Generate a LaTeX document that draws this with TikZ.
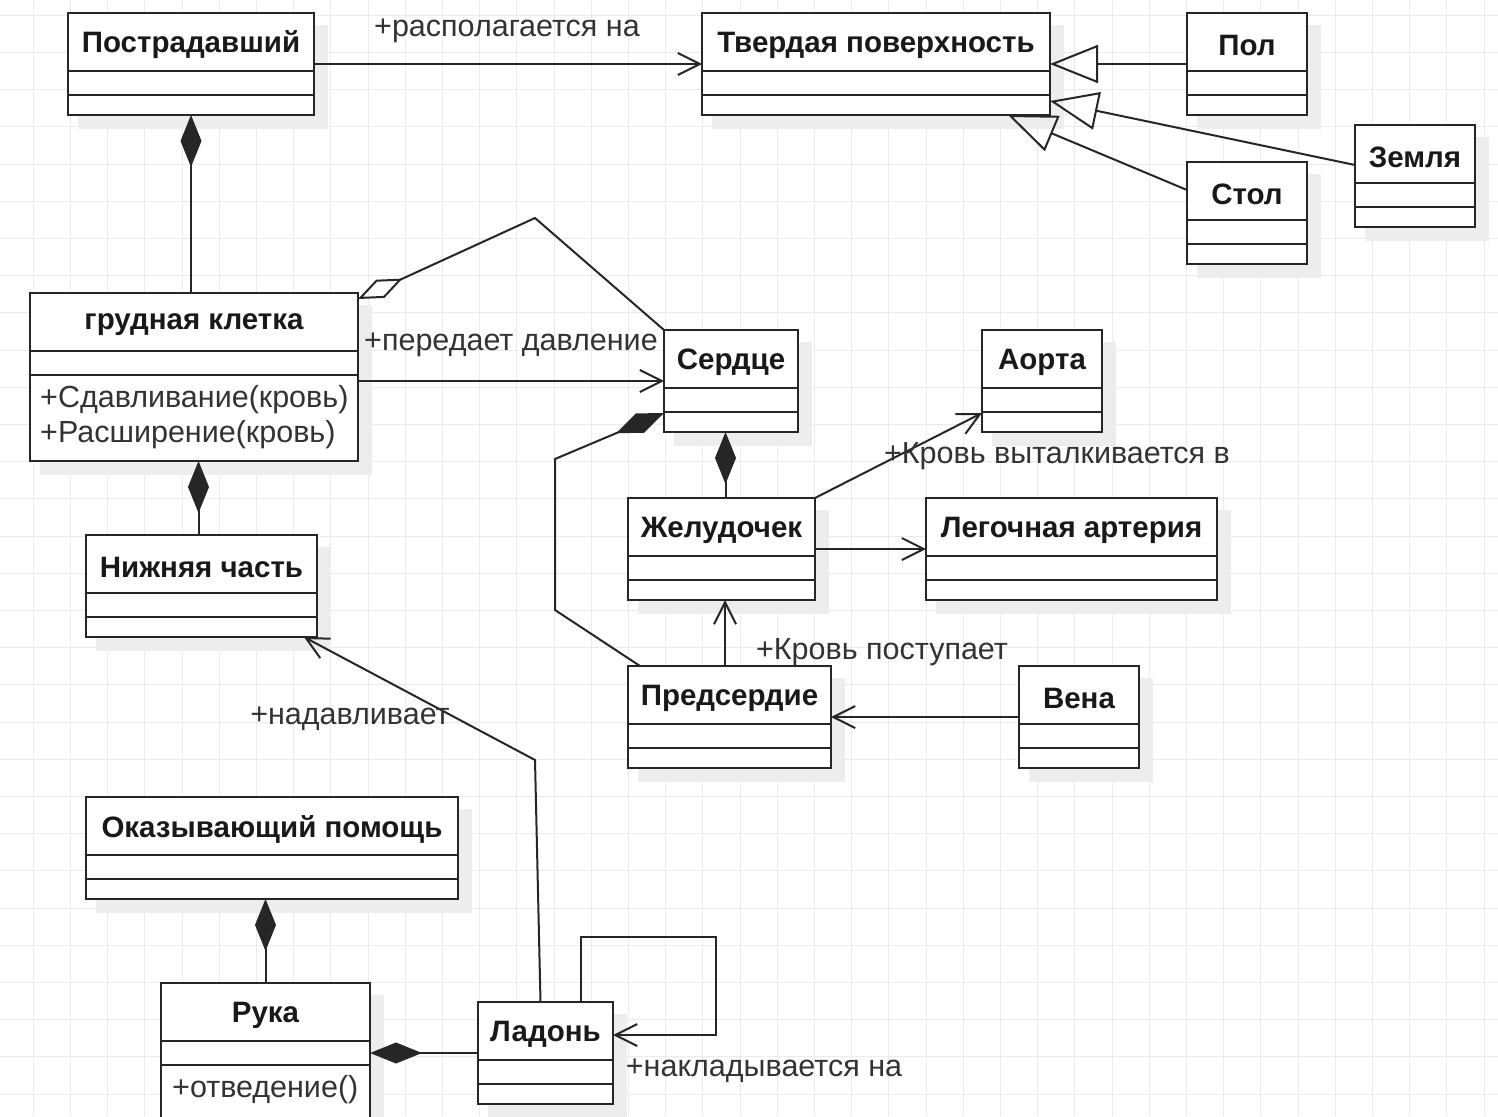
\documentclass[tikz,border=0pt]{standalone}
\usepackage{fontspec}
\setmainfont{Liberation Sans}
\usetikzlibrary{arrows.meta,calc}
\tikzset{
 box/.style={draw=black!85, fill=white, line width=2pt, inner sep=0pt, outer sep=0pt},
 shad/.style={fill=black!7},
 divl/.style={draw=black!85, line width=2pt},
 gridl/.style={draw=black!8, line width=0.8pt},
 ttl/.style={font=\bfseries\fontsize{29.5}{31}\selectfont, text=black!90, inner sep=0pt},
 lbl/.style={font=\fontsize{30.5}{32}\selectfont, text=black!80, inner sep=0pt},
 conn/.style={line width=2pt, draw=black!85},
 assoc/.style={conn, -{Straight Barb[length=22pt,width=22pt]}},
 gen/.style={conn, -{Triangle[open,length=48pt,width=38pt]}},
 comp/.style={conn, {Diamond[length=52pt,width=21pt]}-},
 aggr/.style={conn, {Diamond[open,length=49pt,width=20pt]}-},
}
\newcommand\umlcls[8]{%
  \fill[shad] ({#2+10},{#3+12}) rectangle ({#4+14},{#5+14});
  \node[box, minimum width={(#4)-(#2)}, minimum height={(#5)-(#3)}] (#1) at ({((#2)+(#4))/2},{((#3)+(#5))/2}) {};
  \draw[divl] ({#2},{#6}) -- ({#4},{#6});
  \draw[divl] ({#2},{#7}) -- ({#4},{#7});
  \node[ttl] (#1-t) at ({((#2)+(#4))/2},{((#3)+(#6))/2+3}) {#8};
}
\begin{document}
\begin{tikzpicture}[x=1pt,y=-1pt]
\useasboundingbox (0,0) rectangle (1498,1116);
\clip (0,0) rectangle (1498,1116);
\fill[white] (0,0) rectangle (1498,1116);
\foreach \i in {0,...,41} \draw[gridl] ({-4+37.2*\i},0) -- ({-4+37.2*\i},1116);
\foreach \j in {0,...,31} \draw[gridl] (0,{-22+37.2*\j}) -- (1498,{-22+37.2*\j});

\umlcls{post}{68}{13}{314}{115}{71}{95}{Пострадавший}
\umlcls{tverd}{702}{13}{1050}{115}{71}{95}{Твердая поверхность}
\umlcls{pol}{1187}{13}{1307}{115}{71}{95}{Пол}
\umlcls{zemlya}{1355}{125}{1475}{227}{183}{207}{Земля}
\umlcls{stol}{1187}{162}{1307}{264}{220}{244}{Стол}
\umlcls{grud}{30}{293}{358}{461}{351}{375}{грудная клетка}
\umlcls{serd}{664}{330}{798}{432}{388}{412}{Сердце}
\umlcls{aorta}{982}{330}{1102}{432}{388}{412}{Аорта}
\umlcls{zhel}{628}{498}{815}{600}{556}{580}{Желудочек}
\umlcls{leg}{926}{498}{1217}{600}{556}{580}{Легочная артерия}
\umlcls{nizh}{86}{535}{317}{637}{593}{617}{Нижняя часть}
\umlcls{pred}{628}{666}{831}{768}{724}{748}{Предсердие}
\umlcls{vena}{1019}{666}{1139}{768}{724}{748}{Вена}
\umlcls{okaz}{86}{797}{458}{899}{855}{879}{Оказывающий помощь}
\umlcls{ruka}{161}{983}{370}{1130}{1041}{1065}{Рука}
\umlcls{ladon}{478}{1002}{613}{1104}{1060}{1084}{Ладонь}

\node[lbl, anchor=west] (a1) at (40,400) {+Сдавливание(кровь)};
\node[lbl, anchor=west] (a2) at (40,435) {+Расширение(кровь)};
\node[lbl, anchor=west] (a3) at (172,1090) {+отведение()};

% connectors
\draw[assoc] (post.east) -- (tverd.west);
\draw[gen] (pol.west) -- (tverd.east);
\draw[gen] ([yshift=11pt]zemlya.west) -- ([yshift=-37pt]tverd.east);
\draw[gen] ([yshift=23pt]stol.west) -- ([xshift=-42pt]tverd.south east);
\draw[comp] (post.south) -- (post.south |- grud.north);
\draw[aggr] ([yshift=-6pt]grud.north east) -- (535,218) -- (serd.north west);
\draw[assoc] (grud.east |- serd.west) -- (serd.west);
\coordinate (nn) at ([xshift=-3pt]nizh.north);
\draw[comp] (nn |- grud.south) -- (nn);
\draw[comp] ([yshift=-32pt]serd.west) -- (555,459) -- (555,610) -- ([xshift=12pt]pred.north west);
\coordinate (zs) at ([xshift=4pt]zhel.north);
\draw[comp] (zs |- serd.south) -- (zs);
\draw[assoc] (zhel.north east) -- ([yshift=-32pt]aorta.west);
\draw[assoc] (zhel.east) -- (leg.west);
\coordinate (pz) at ([xshift=3.5pt]zhel.south);
\draw[assoc] (pz |- pred.north) -- (pz);
\draw[assoc] (vena.west) -- (pred.east);
\draw[assoc] ([xshift=-5pt]ladon.north) -- (535,760) -- ([xshift=-13pt]nizh.south east);
\draw[comp] (ruka.north |- okaz.south) -- (ruka.north);
\draw[comp] (ladon.west -| ruka.east) -- (ladon.west);
\draw[assoc] ([xshift=35pt]ladon.north) -- ++(0,-65) -- (716,937) -- (716,1035) -- ([yshift=18pt]ladon.east);

\node[lbl] (l1) at (507,31) {+располагается на};
\node[lbl] (l2) at (511,345) {+передает давление};
\node[lbl] (l3) at (1057,456) {+Кровь выталкивается в};
\node[lbl] (l4) at (882,652) {+Кровь поступает};
\node[lbl] (l5) at (350,719) {+надавливает};
\node[lbl] (l6) at (764,1071) {+накладывается на};
\end{tikzpicture}
\end{document}
